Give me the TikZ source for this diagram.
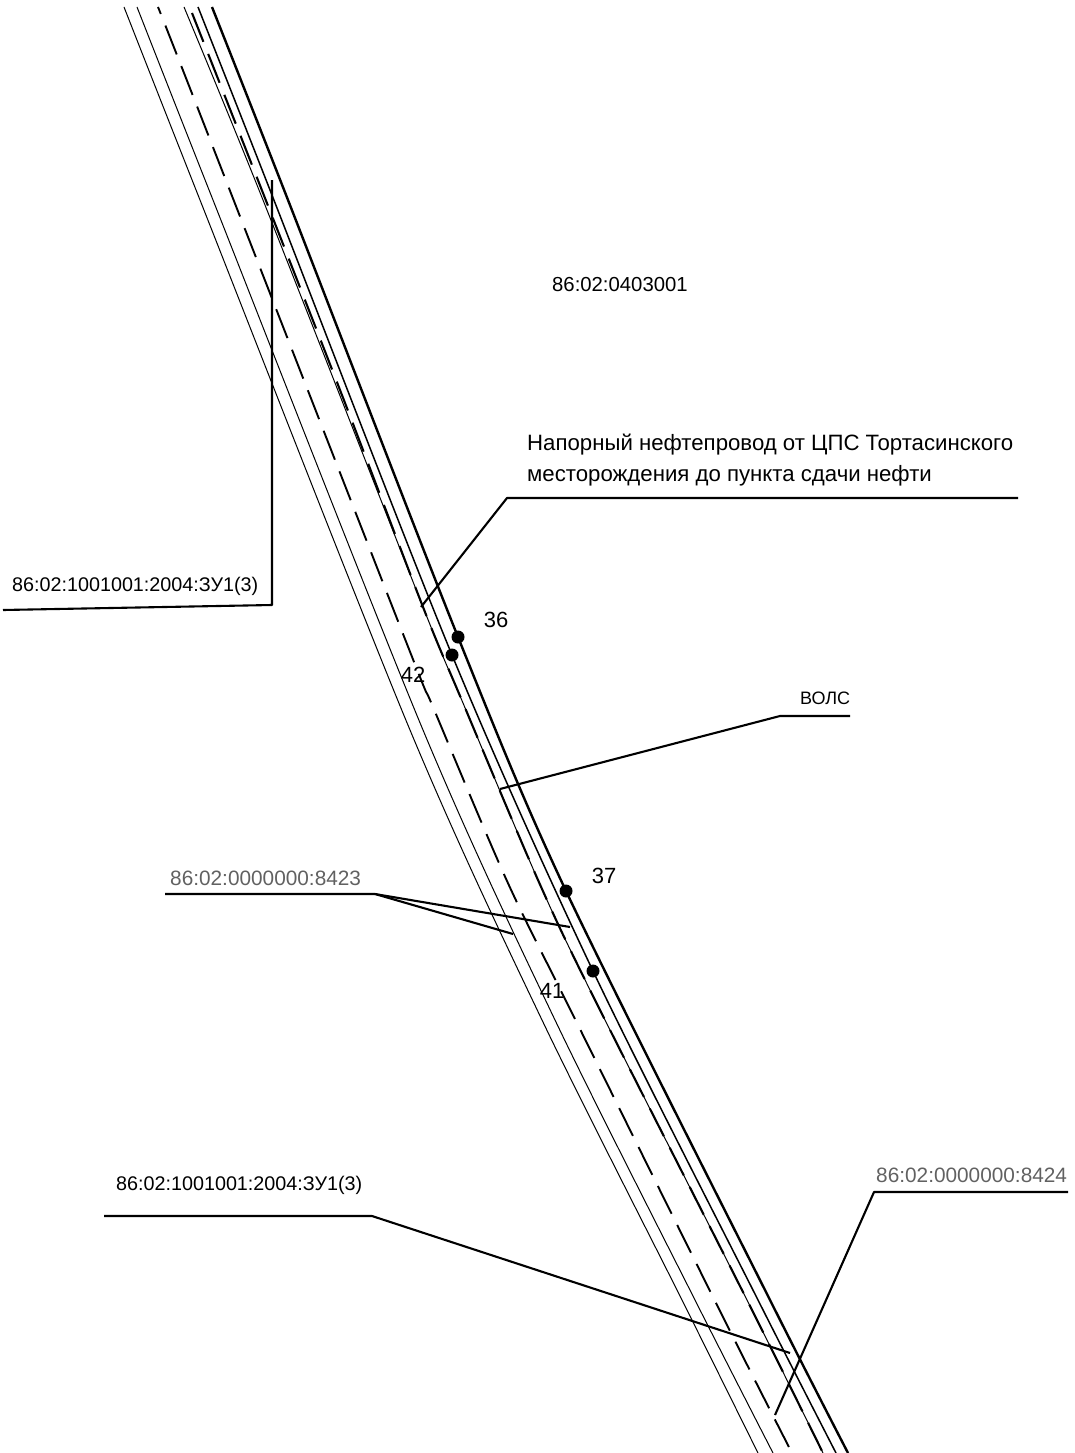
\documentclass[tikz,border=0pt]{standalone}
\usepackage{fontspec}
\setmainfont{Liberation Sans}
\tikzset{
  x=1pt,y=-1pt,
  thinpipe/.style={line width=1pt,black},
  medpipe/.style={line width=1.5pt,black},
  heavypipe/.style={line width=2.4pt,black},
  axisdash/.style={line width=1.9pt,black,dash pattern=on 31pt off 12.5pt,dash phase=23.5pt},
  oildash/.style={line width=2.1pt,black,dash pattern=on 31pt off 13pt},
  leader/.style={line width=2.1pt,black,line join=round},
  mark dot/.style={circle,fill=black,inner sep=0pt,minimum size=13pt},
  codelab/.style={inner sep=0pt,font=\fontsize{19.75}{22}\selectfont,text=black},
  voltlab/.style={inner sep=0pt,font=\fontsize{18}{20}\selectfont,text=black},
  quartlab/.style={inner sep=0pt,font=\fontsize{20.3}{22}\selectfont,text=black},
  pipelab/.style={inner sep=0pt,font=\fontsize{22.2}{24}\selectfont,text=black},
  numlab/.style={inner sep=0pt,font=\fontsize{22}{24}\selectfont,text=black},
  greylab/.style={inner sep=0pt,font=\fontsize{20.8}{23}\selectfont,text=black!62},
}
\begin{document}
\begin{tikzpicture}
\useasboundingbox (0,0) rectangle (1075,1453);
% parallel pipeline lines
\draw[thinpipe] plot[smooth] coordinates {(124,7) (200,200) (410,730) (542,1020) (682,1300) (758,1453)};
\draw[thinpipe] plot[smooth] coordinates {(137,7) (213,200) (423,730) (555,1020) (695,1300) (773,1453)};
\draw[axisdash] plot[smooth] coordinates {(158,7) (193,96) (405,639) (433,707) (507,881) (575,1019) (721,1313) (792,1453)};
\draw[thinpipe] plot[smooth] coordinates {(184,7) (263,200) (423,607) (463,703) (538,880) (595,1000) (747,1300) (823,1453)};
\draw[oildash] plot[smooth] coordinates {(192,13) (252,165) (340,390) (423,607) (463,703) (538,880) (595,1000) (747,1300) (823,1453)};
\draw[medpipe] plot[smooth] coordinates {(198,7) (270,190) (452,655) (593,971) (758,1300) (836,1453)};
\draw[heavypipe] plot[smooth] coordinates {(212,7) (288,200) (458,637) (566,891) (770,1300) (848,1453)};
% survey points
\node[mark dot] (p36) at (458,637) {};
\node[mark dot] (p36b) at (452,655) {};
\node[mark dot] (p37) at (566,891) {};
\node[mark dot] (p37b) at (593,971) {};
% labels
\node[quartlab,anchor=west] (q) at (552,285) {86:02:0403001};
\node[pipelab,anchor=west] (neft1) at (527,445) {Напорный нефтепровод от ЦПС Тортасинского};
\node[pipelab,anchor=west] (neft2) at (527,476) {месторождения до пункта сдачи нефти};
\node[codelab,anchor=west] (zu1) at (12,586) {86:02:1001001:2004:ЗУ1(3)};
\node[codelab,anchor=west] (zu2) at (116,1185) {86:02:1001001:2004:ЗУ1(3)};
\node[voltlab,anchor=west] (vols) at (800,698) {ВОЛС};
\node[greylab,anchor=west] (g23) at (170,878) {86:02:0000000:8423};
\node[greylab,anchor=west] (g24) at (876,1175) {86:02:0000000:8424};
\node[numlab] (n36) at (496,620) {36};
\node[numlab] (n37) at (604,876) {37};
\node[numlab] (n42) at (413,675) {42};
\node[numlab] (n41) at (552,991) {41};
% leader anchors
\coordinate (a1) at (3,610);  \coordinate (a2) at (272,605); \coordinate (a3) at (272,180);
\coordinate (b1) at (1018,498); \coordinate (b2) at (507,498); \coordinate (b3) at (421,607);
\coordinate (c1) at (850,716); \coordinate (c2) at (780,716); \coordinate (c3) at (500,789);
\coordinate (d1) at (165,894); \coordinate (d2) at (375,894); \coordinate (d3) at (570,927); \coordinate (d4) at (513,934);
\coordinate (e1) at (104,1216); \coordinate (e2) at (372,1216); \coordinate (e3) at (790,1353);
\coordinate (f1) at (1068,1192); \coordinate (f2) at (874,1192); \coordinate (f3) at (775,1415);
\draw[leader] (a1) -- (a2) -- (a3);
\draw[leader] (b1) -- (b2) -- (b3);
\draw[leader] (c1) -- (c2) -- (c3);
\draw[leader] (d1) -- (d2) -- (d3);
\draw[leader] (d2) -- (d4);
\draw[leader] (e1) -- (e2) -- (e3);
\draw[leader] (f1) -- (f2) -- (f3);
\end{tikzpicture}
\end{document}
